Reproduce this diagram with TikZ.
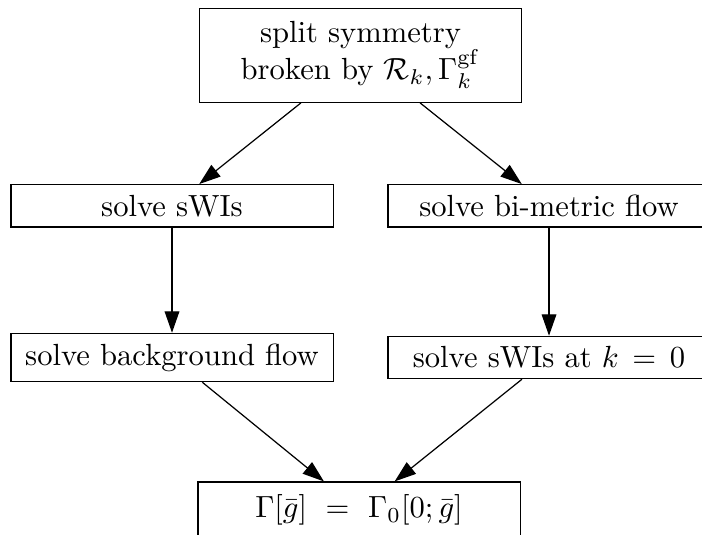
\documentclass[tikz,border=0pt]{standalone}
\usetikzlibrary{arrows.meta}
\begin{document}
\begin{tikzpicture}[x=0.3268pt,y=-0.3268pt,
  box/.style={draw=black,line width=0.4pt,minimum width=105.3pt,inner sep=0.3333em,align=center},
  arr/.style={draw=black,line width=0.4pt,-{Triangle[length=7pt,width=4.8pt]}}]
\useasboundingbox (0,0) rectangle (702,534);
\clip (0,0) rectangle (702,534);
\node[box,minimum height=30.7pt] (top) at (360.5,55.3) {split symmetry\\broken by $\mathcal{R}_k,\Gamma_k^{\rm gf}$};
\node[box] (l1) at (172,205.8) {solve sWIs};
\node[box] (r1) at (549,205.8) {solve bi-metric flow};
\node[box] (l2) at (172,357.5) {solve background flow};
\node[box] (r2) at (549,357.5) {solve sWIs at $k\,=\,0$};
\node[box,minimum height=18.3pt] (bot) at (359,510) {$\Gamma[\bar g]\ =\ \Gamma_0[0;\bar g]$};
\draw[arr] (top) -- (l1);
\draw[arr] (top) -- (r1);
\draw[arr] (l1) -- (l2);
\draw[arr] (r1) -- (r2);
\draw[arr] (l2) -- (bot);
\draw[arr] (r2) -- (bot);
\end{tikzpicture}
\end{document}
